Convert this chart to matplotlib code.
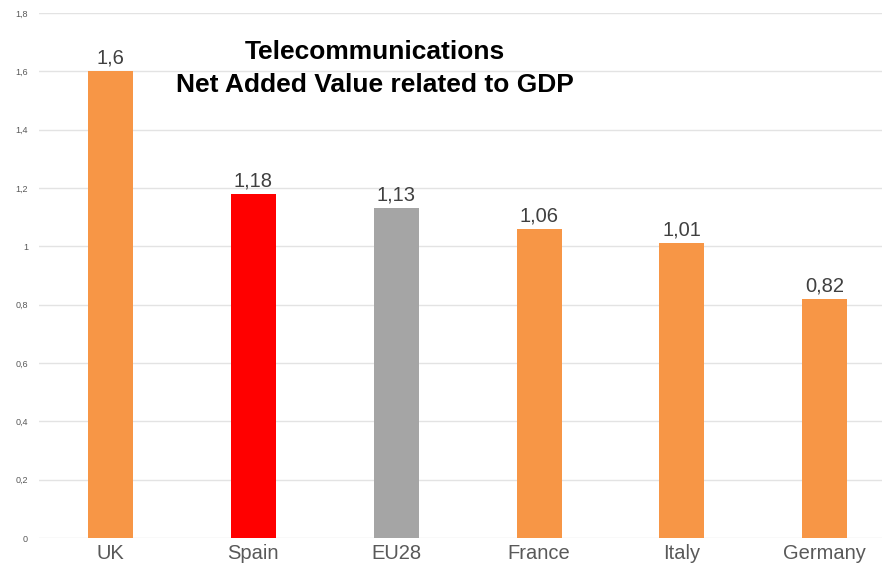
import matplotlib
matplotlib.use("Agg")
import matplotlib.pyplot as plt
from matplotlib.ticker import FuncFormatter

countries = ["UK", "Spain", "EU28", "France", "Italy", "Germany"]
values = [1.6, 1.18, 1.13, 1.06, 1.01, 0.82]
colors = ["#F79646", "#FF0000", "#A5A5A5", "#F79646", "#F79646", "#F79646"]
yticks = [0, 0.2, 0.4, 0.6, 0.8, 1.0, 1.2, 1.4, 1.6, 1.8]

plt.rcParams["font.family"] = ["Liberation Sans", "DejaVu Sans"]

fig = plt.figure(figsize=(8.82, 5.72), dpi=100)
ax = fig.add_axes([39 / 882, 1 - 538 / 572, 1 - 39 / 882, (538 - 13) / 572])

x = list(range(len(countries)))
ax.bar(x, values, width=0.315, color=colors, zorder=3)

def comma(v):
    s = f"{v:.2f}".rstrip("0").rstrip(".")
    return s.replace(".", ",")

for xi, v in zip(x, values):
    ax.text(xi, v + 0.012, comma(v), ha="center", va="bottom",
            fontsize=14.5, color="#404040")

ax.set_xlim(-0.5, 5.40)
ax.set_ylim(0, 1.8)
ax.set_yticks(yticks)
ax.yaxis.set_major_formatter(FuncFormatter(lambda v, p: comma(round(v, 1))))
ax.grid(axis="y", color="#E3E3E3", linewidth=1, zorder=0)
ax.tick_params(axis="y", length=0, labelsize=6.5, labelcolor="#595959", pad=8)
ax.set_xticks(x)
ax.set_xticklabels(countries)
ax.tick_params(axis="x", length=0, labelsize=14.5, labelcolor="#595959", pad=4)
for s in ax.spines.values():
    s.set_visible(False)

fig.text(375 / 882, 1 - 52 / 572, "Telecommunications", ha="center", va="center",
         fontsize=19, fontweight="bold", color="black")
fig.text(375 / 882, 1 - 85 / 572, "Net Added Value related to GDP", ha="center",
         va="center", fontsize=19, fontweight="bold", color="black")

fig.savefig("out.png", dpi=100)
